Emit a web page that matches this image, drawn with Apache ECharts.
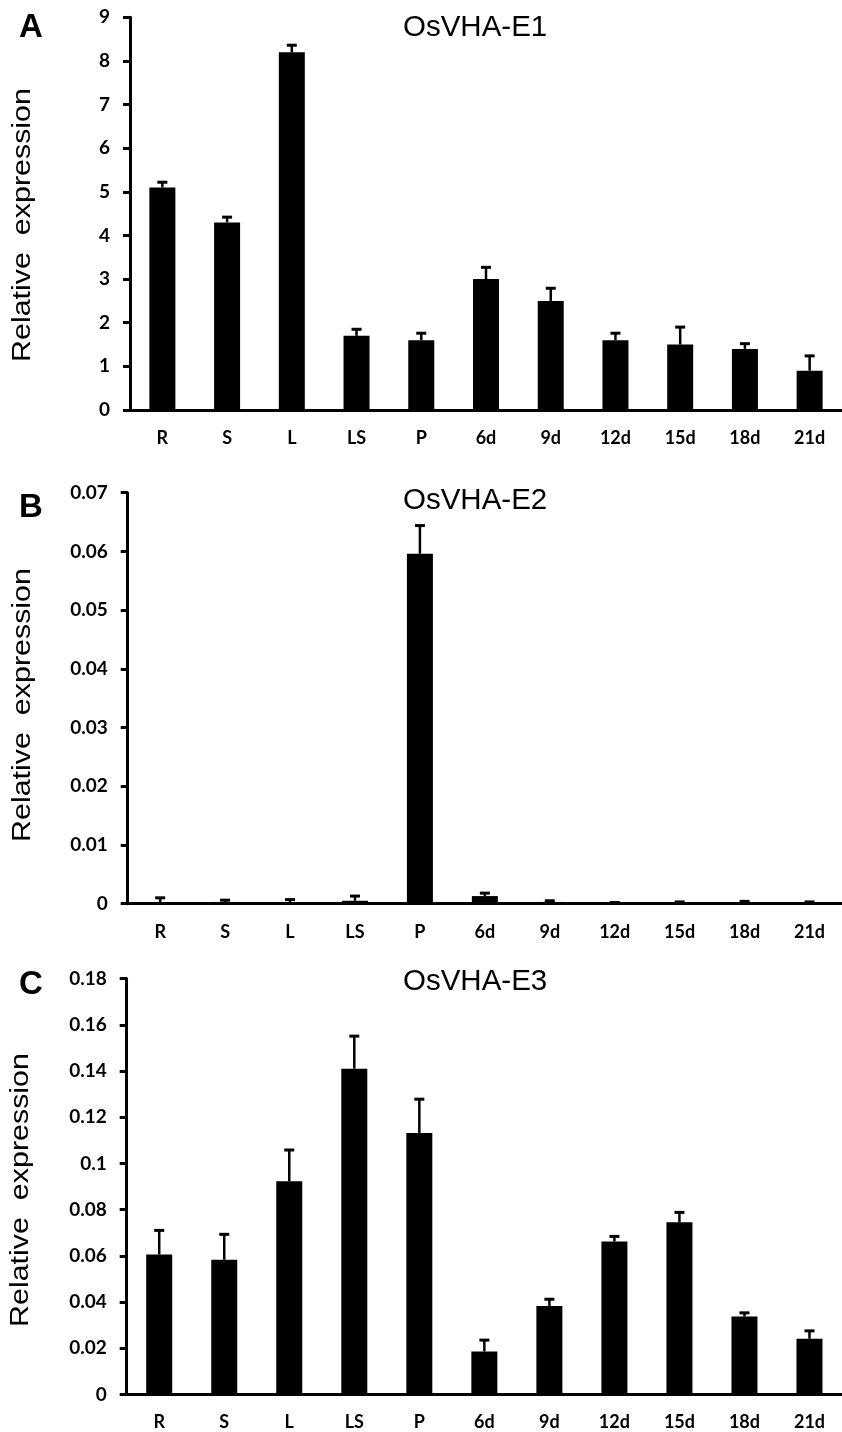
<!DOCTYPE html>
<html>
<head>
<meta charset="utf-8">
<title>OsVHA-E expression</title>
<script src="https://cdn.jsdelivr.net/npm/echarts@6/dist/echarts.min.js"></script>
<style>
  html, body { margin: 0; padding: 0; background: #fff; overflow: hidden; }
  #chart { width: 842px; height: 1432px; }
</style>
</head>
<body>
<div id="chart"></div>
<script>
// tissues / days after pollination
var categories = ['R', 'S', 'L', 'LS', 'P', '6d', '9d', '12d', '15d', '18d', '21d'];

// OsVHA-E1
var e1Mean = [5.1, 4.3, 8.2, 1.7, 1.6, 3.0, 2.5, 1.6, 1.5, 1.4, 0.9];
var e1Err = [0.12, 0.12, 0.16, 0.15, 0.16, 0.27, 0.29, 0.16, 0.4, 0.12, 0.34];

// OsVHA-E2
var e2Mean = [0.0002, 0.0003, 0.0002, 0.0005, 0.0596, 0.0013, 0.0003, 0.0001, 0.0001, 0.0002, 0.0001];
var e2Err = [0.0008, 0.0003, 0.0005, 0.0008, 0.0048, 0.0005, 0.0002, 0.0001, 0.0002, 0.0002, 0.0002];

// OsVHA-E3
var e3Mean = [0.0606, 0.0583, 0.0923, 0.141, 0.1132, 0.0186, 0.0383, 0.0662, 0.0745, 0.0337, 0.0241];
var e3Err = [0.0104, 0.011, 0.0135, 0.0141, 0.0146, 0.0049, 0.0029, 0.0022, 0.0043, 0.0016, 0.0034];

var panelTitles = ['OsVHA-E1', 'OsVHA-E2', 'OsVHA-E3'];
var panelLetters = ['A', 'B', 'C'];
var yName = 'Relative  expression';

var tickFont = 'Lato';
var axisW = 3;

var chart = echarts.init(document.getElementById('chart'), null, { renderer: 'canvas' });

function xAxisFor(i) {
    return {
        type: 'category',
        gridIndex: i,
        data: categories,
        axisLine: { lineStyle: { color: '#000', width: axisW } },
        axisTick: { length: 7, lineStyle: { color: '#000', width: 3 } },
        axisLabel: { color: '#000', fontFamily: tickFont, fontWeight: 'bold', fontSize: 18, margin: 19 }
    };
}

function yAxisFor(i, max, step) {
    return {
        type: 'value',
        gridIndex: i,
        min: 0,
        max: max,
        interval: step,
        splitLine: { show: false },
        axisLine: { show: true, lineStyle: { color: '#000', width: axisW } },
        axisTick: { show: true, length: 7, lineStyle: { color: '#000', width: 3 } },
        axisLabel: { color: '#000', fontFamily: tickFont, fontWeight: 'bold', fontSize: 19, margin: 20 }
    };
}

// error bar: stem from bar top + cap
function errRender(params, api) {
    var x = api.value(0);
    var top = api.coord([x, api.value(1) + api.value(2)]);
    var base = api.coord([x, api.value(1)]);
    var half = 5;
    return {
        type: 'group',
        children: [
            { type: 'line', shape: { x1: base[0], y1: base[1], x2: top[0], y2: top[1] },
              style: { stroke: '#000', lineWidth: 2.5 } },
            { type: 'line', shape: { x1: top[0] - half, y1: top[1], x2: top[0] + half, y2: top[1] },
              style: { stroke: '#000', lineWidth: 3 } }
        ]
    };
}

function barSeries(i, vals) {
    return {
        type: 'bar',
        xAxisIndex: i,
        yAxisIndex: i,
        data: vals,
        barWidth: 26,
        itemStyle: { color: '#000' },
        silent: true
    };
}

function errSeries(i, vals, errs) {
    var d = [];
    for (var k = 0; k < vals.length; k++) {
        d.push([k, vals[k], errs[k]]);
    }
    return {
        type: 'custom',
        xAxisIndex: i,
        yAxisIndex: i,
        renderItem: errRender,
        encode: { x: 0, y: 1 },
        data: d,
        z: 3,
        silent: true
    };
}

// titles + panel letters
var titleTops = [8, 481, 962];
var letterTops = [6, 486, 963];
var titles = [];
for (var t = 0; t < 3; t++) {
    titles.push({
        text: panelTitles[t],
        left: 398,
        top: titleTops[t],
        textStyle: { color: '#000', fontFamily: 'Liberation Sans', fontWeight: 'normal', fontSize: 29.5 }
    });
    titles.push({
        text: panelLetters[t],
        left: 14,
        top: letterTops[t],
        textStyle: { color: '#000', fontFamily: 'Liberation Sans', fontWeight: 'bold', fontSize: 33 }
    });
}

// rotated y names, a bit stretched along the text like the original
var nameCenters = [[23, 225], [22.5, 705], [21, 1190]];
var graphics = [];
for (var g = 0; g < 3; g++) {
    graphics.push({
        type: 'text',
        x: nameCenters[g][0],
        y: nameCenters[g][1],
        rotation: Math.PI / 2,
        scaleX: 1.17,
        style: {
            text: yName,
            fill: '#000',
            font: '26px "Liberation Sans"',
            align: 'center',
            verticalAlign: 'middle'
        },
        silent: true
    });
}

var option = {
    animation: false,
    backgroundColor: '#fff',
    title: titles,
    graphic: graphics,
    grid: [
        { left: 130, top: 17.3, width: 718, height: 392.7 },
        { left: 127.7, top: 492.7, width: 718, height: 411 },
        { left: 126.7, top: 978.6, width: 718, height: 415.8 }
    ],
    xAxis: [xAxisFor(0), xAxisFor(1), xAxisFor(2)],
    yAxis: [yAxisFor(0, 9, 1), yAxisFor(1, 0.07, 0.01), yAxisFor(2, 0.18, 0.02)],
    series: [
        barSeries(0, e1Mean), errSeries(0, e1Mean, e1Err),
        barSeries(1, e2Mean), errSeries(1, e2Mean, e2Err),
        barSeries(2, e3Mean), errSeries(2, e3Mean, e3Err)
    ]
};

chart.setOption(option);
</script>
</body>
</html>
